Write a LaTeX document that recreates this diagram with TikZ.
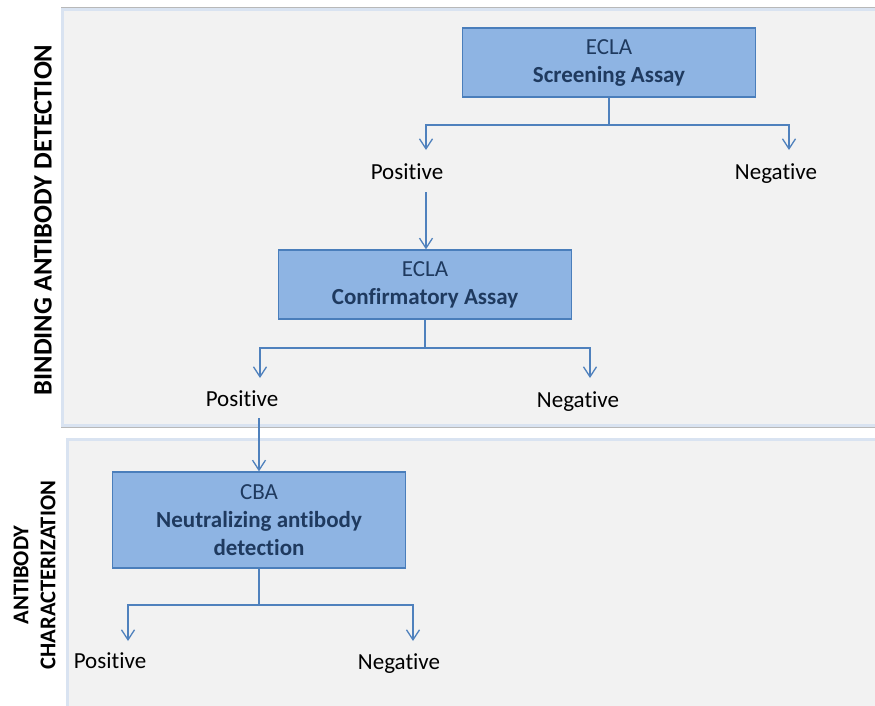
\documentclass[tikz,border=0pt]{standalone}
\usepackage{fontspec}
\setmainfont{Carlito}[Ligatures=NoCommon]
\usetikzlibrary{arrows.meta}
\definecolor{panelfill}{HTML}{F2F2F2}
\definecolor{paneledge}{HTML}{D9E3F1}
\definecolor{panelgray}{HTML}{B8B8B8}
\definecolor{boxfill}{HTML}{8EB4E3}
\definecolor{boxedge}{HTML}{4A7EBB}
\definecolor{boxtext}{HTML}{1F3A5F}
\definecolor{arrowcol}{HTML}{4F81BD}
\tikzset{
  stepbox/.style={draw=boxedge, line width=1.3pt, fill=boxfill, text=boxtext,
    align=center, inner sep=0pt, font=\fontsize{23}{28}\selectfont},
  outcome/.style={anchor=base, inner sep=0pt, font=\fontsize{23}{28}\selectfont},
  arr/.style={draw=arrowcol, line width=1.3pt, -{Straight Barb[length=10pt,width=13pt,line width=1.3pt]}},
  link/.style={draw=arrowcol, line width=1.3pt},
  sidelabel/.style={rotate=90, align=center, inner sep=0pt},
}
\begin{document}
\begin{tikzpicture}[x=1pt,y=-1pt]
\useasboundingbox (0,0) rectangle (875,706);
\fill[white] (0,0) rectangle (875,706);
% panels
\draw[panelgray, line width=1pt] (61,8) rectangle (885,427);
\draw[panelgray, line width=1pt] (66,438) rectangle (885,715);
\fill[panelfill] (61,8) rectangle (885,427);
\fill[panelfill] (66,438) rectangle (885,715);
\draw[paneledge, line width=2.5pt] (885,9.5) -- (62.5,9.5) -- (62.5,425.5) -- (885,425.5);
\draw[paneledge, line width=2.5pt] (885,439.5) -- (67.5,439.5) -- (67.5,715);
% side labels
\node[sidelabel, font=\fontsize{26.5}{30}\bfseries\selectfont] (lab1) at (43,220) {BINDING ANTIBODY DETECTION};
\node[sidelabel, font=\fontsize{22.5}{27}\bfseries\selectfont] (lab2) at (34.5,575) {ANTIBODY\\CHARACTERIZATION};
% boxes
\node[stepbox, minimum width=293pt, minimum height=69pt] (b1) at (609,62.5) {ECLA\\\textbf{Screening Assay}};
\node[stepbox, minimum width=293pt, minimum height=69pt] (b2) at (425,284.5) {ECLA\\\textbf{Confirmatory Assay}};
\node[stepbox, minimum width=293pt, minimum height=96pt] (b3) at (259,520) {CBA\\\textbf{Neutralizing antibody}\\\textbf{detection}};
% outcomes
\node[outcome] (p1) at (407,179) {Positive};
\node[outcome] (n1) at (776,179) {Negative};
\node[outcome] (p2) at (242,406) {Positive};
\node[outcome] (n2) at (578,407) {Negative};
\node[outcome] (p3) at (110,668) {Positive};
\node[outcome] (n3) at (399,669) {Negative};
% connector points
\coordinate (j1) at (609,125);
\coordinate (t1a) at (426,150);
\coordinate (t1b) at (789,150);
\coordinate (s1) at (426,192);
\coordinate (j2) at (425,348);
\coordinate (t2a) at (260,378);
\coordinate (t2b) at (590,378);
\coordinate (s2) at (259,418);
\coordinate (j3) at (259,605);
\coordinate (t3a) at (128,641);
\coordinate (t3b) at (413,641);
% connectors
\draw[link] (b1.south) -- (j1);
\draw[arr] (j1) -| (t1a);
\draw[arr] (j1) -| (t1b);
\draw[arr] (s1) -- (s1 |- b2.north);
\draw[link] (b2.south) -- (j2);
\draw[arr] (j2) -| (t2a);
\draw[arr] (j2) -| (t2b);
\draw[arr] (s2) -- (s2 |- b3.north);
\draw[link] (b3.south) -- (j3);
\draw[arr] (j3) -| (t3a);
\draw[arr] (j3) -| (t3b);
\end{tikzpicture}
\end{document}
